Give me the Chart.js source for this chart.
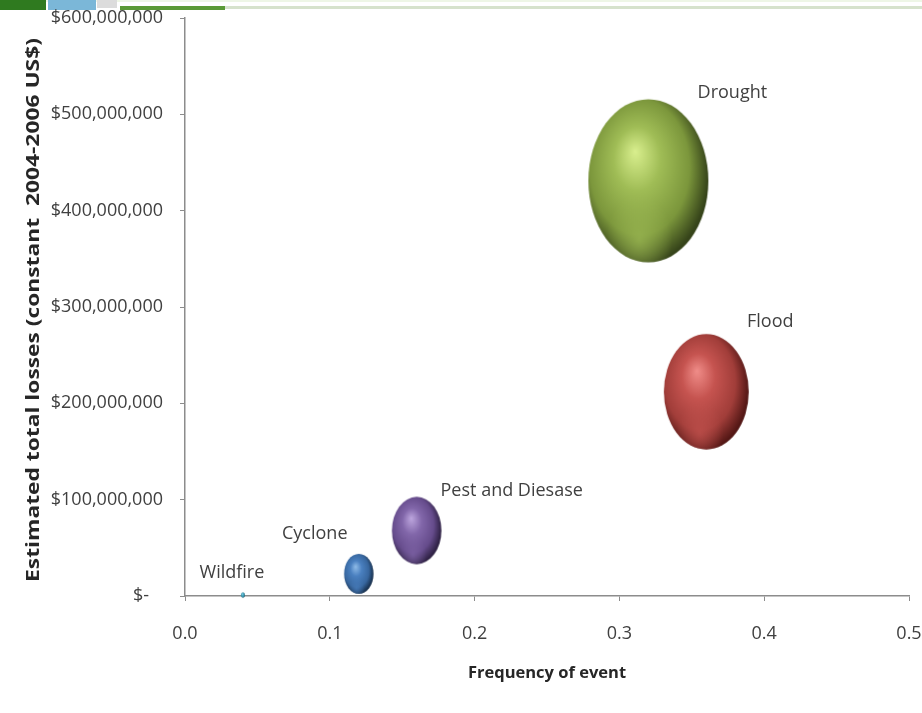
<!DOCTYPE html>
<html>
<head>
<meta charset="utf-8">
<title>Estimated total losses by frequency of event</title>
<script src="https://cdn.jsdelivr.net/npm/chart.js@4.4.1/dist/chart.umd.min.js"></script>
<style>
  html, body { margin: 0; padding: 0; background: #ffffff; }
  #wrap { width: 922px; height: 713px; position: relative; }
</style>
</head>
<body>
<div id="wrap"><canvas id="chart" width="922" height="713"></canvas></div>
<script>
// Hazard categories and their statistics
const categories = ['Wildfire', 'Cyclone', 'Pest and Diesase', 'Flood', 'Drought'];
const frequency  = [0.04, 0.12, 0.16, 0.36, 0.32];                       // share of years with the event
const losses     = [1000000, 23000000, 68000000, 212000000, 431000000];  // constant 2004-2006 US$
const bubbleSize = [0.1, 6, 17, 50, 100];                                // relative bubble magnitude

// Axis ticks and titles
const xTicks = [0.0, 0.1, 0.2, 0.3, 0.4, 0.5];
const yTicks = [0, 100000000, 200000000, 300000000, 400000000, 500000000, 600000000];
const xTitle = 'Frequency of event';
const yTitle = 'Estimated total losses (constant  2004-2006 US$)';

// ---- presentation ----
const MAX_RX = 60;          // horizontal radius of the largest bubble (px)
const STRETCH = 1.36;       // vertical elongation of the bubbles
const sphereColors = [
  { hi: '#8fd3e6', base: '#4bacc6', mid: '#2f8aa3', dark: '#1a4f5e' },
  { hi: '#8fbbe8', base: '#4a80c0', mid: '#38679f', dark: '#172f4c' },
  { hi: '#bda6de', base: '#8267aa', mid: '#664c8c', dark: '#2d2042' },
  { hi: '#f08d89', base: '#c65450', mid: '#a23e3a', dark: '#531715' },
  { hi: '#d9ef8e', base: '#a0bd56', mid: '#7c973c', dark: '#36441a' }
];
// where each data label sits relative to its bubble centre
const labelOffsets = [[-11, -22], [-44, -40], [95, -40], [64, -70], [84, -88]];

function radiusFor(v) {
  const maxV = Math.max(...bubbleSize);
  return Math.max(2, MAX_RX * Math.sqrt(v / maxV));
}

// Shaded, slightly elongated sphere used as the point style of each bubble
function makeSphere(rx, c) {
  const ry = rx * STRETCH;
  const cv = document.createElement('canvas');
  const w = Math.ceil(2 * rx) + 2, h = Math.ceil(2 * ry) + 2;
  cv.width = w; cv.height = h;
  const g = cv.getContext('2d');
  g.translate(w / 2, h / 2);
  g.scale(rx, ry);
  const grad = g.createRadialGradient(-0.22, -0.36, 0, -0.12, -0.1, 1.12);
  grad.addColorStop(0.0, c.hi);
  grad.addColorStop(0.35, c.base);
  grad.addColorStop(0.74, c.mid);
  grad.addColorStop(1.0, c.dark);
  g.beginPath();
  g.arc(0, 0, 1, 0, Math.PI * 2);
  g.fillStyle = grad;
  g.fill();
  // soft reflected light near the lower rim
  g.save();
  g.clip();
  const refl = g.createRadialGradient(-0.15, 0.72, 0, -0.15, 0.72, 0.55);
  refl.addColorStop(0, c.base + 'aa');
  refl.addColorStop(1, c.base + '00');
  g.fillStyle = refl;
  g.fillRect(-1, -1, 2, 2);
  g.restore();
  return cv;
}

const radii = bubbleSize.map(radiusFor);
const sprites = radii.map((r, i) => makeSphere(r, sphereColors[i]));

const points = categories.map((c, i) => ({ x: frequency[i], y: losses[i], r: radii[i] }));

function money(v) {
  if (v === 0) return '$-   ';
  return '$' + String(Math.round(v)).replace(/\B(?=(\d{3})+(?!\d))/g, ',');
}

// decorative header strip along the top edge
const headerStrip = {
  id: 'headerStrip',
  beforeDraw(chart) {
    const ctx = chart.ctx;
    ctx.save();
    ctx.fillStyle = '#ffffff';
    ctx.fillRect(0, 0, chart.width, chart.height);
    ctx.fillStyle = '#eef6e6';
    ctx.fillRect(0, 0, chart.width, 2);
    ctx.fillStyle = '#2f7a1f';
    ctx.fillRect(0, 0, 46, 10);
    ctx.fillStyle = '#7bb7d8';
    ctx.fillRect(48, 0, 48, 10);
    ctx.fillStyle = '#dcdcdc';
    ctx.fillRect(97, 0, 20, 8);
    ctx.fillStyle = '#d6e2cc';
    ctx.fillRect(120, 6, chart.width - 120, 3);
    ctx.fillStyle = '#5a9a36';
    ctx.fillRect(120, 6, 105, 4);
    ctx.restore();
  }
};

// vertical axis title, drawn elongated along its reading direction
const yAxisTitle = {
  id: 'yAxisTitle',
  afterDraw(chart) {
    const ctx = chart.ctx;
    const area = chart.chartArea;
    ctx.save();
    ctx.translate(34, (area.top + area.bottom) / 2 + 3);
    ctx.rotate(-Math.PI / 2);
    ctx.scale(1.34, 1);
    ctx.font = 'bold 17px "Open Sans", sans-serif';
    ctx.fillStyle = '#262626';
    ctx.textAlign = 'center';
    ctx.textBaseline = 'middle';
    ctx.fillText(yTitle, 0, 0);
    ctx.restore();
  }
};

// category names beside each bubble
const bubbleLabels = {
  id: 'bubbleLabels',
  afterDatasetsDraw(chart) {
    const ctx = chart.ctx;
    const meta = chart.getDatasetMeta(0);
    ctx.save();
    ctx.font = '18px "Open Sans", sans-serif';
    ctx.fillStyle = '#404040';
    ctx.textAlign = 'center';
    ctx.textBaseline = 'middle';
    meta.data.forEach((el, i) => {
      const [dx, dy] = labelOffsets[i];
      ctx.fillText(categories[i], el.x + dx, el.y + dy);
    });
    ctx.restore();
  }
};

new Chart(document.getElementById('chart'), {
  type: 'bubble',
  data: {
    datasets: [{
      label: 'Losses',
      data: points,
      pointStyle: (ctx) => sprites[ctx.dataIndex],
      backgroundColor: sphereColors.map(c => c.base),
      borderWidth: 0,
      clip: false
    }]
  },
  options: {
    responsive: false,
    animation: false,
    devicePixelRatio: 1,
    layout: { autoPadding: false, padding: { left: 0, top: 18, right: 13, bottom: 0 } },
    plugins: {
      legend: { display: false },
      tooltip: { enabled: false }
    },
    scales: {
      x: {
        type: 'linear',
        min: 0, max: 0.5,
        afterBuildTicks(scale) { scale.ticks = xTicks.map(v => ({ value: v })); },
        afterFit(scale) { scale.height = 117; scale.paddingLeft = 0; scale.paddingRight = 0; },
        grid: { display: true, drawOnChartArea: false, drawTicks: true, tickLength: 5, color: '#8c8c8c' },
        border: { display: true, color: '#8c8c8c', width: 1.5 },
        ticks: {
          padding: 22,
          color: '#404040',
          font: { family: '"Open Sans", sans-serif', size: 18 },
          callback: (v) => Number(v).toFixed(1)
        },
        title: {
          display: true,
          text: xTitle,
          color: '#262626',
          font: { family: '"Open Sans", sans-serif', size: 16.5, weight: 'bold' },
          padding: { top: 0, bottom: 30 }
        }
      },
      y: {
        type: 'linear',
        min: 0, max: 600000000,
        afterBuildTicks(scale) { scale.ticks = yTicks.map(v => ({ value: v })); },
        afterFit(scale) { scale.width = 185; scale.paddingTop = 0; scale.paddingBottom = 0; },
        grid: { display: true, drawOnChartArea: false, drawTicks: true, tickLength: 5, color: '#8c8c8c' },
        border: { display: true, color: '#8c8c8c', width: 1.5 },
        ticks: {
          padding: 17,
          color: '#404040',
          font: { family: '"Open Sans", sans-serif', size: 18 },
          callback: (v) => money(v)
        },
        title: { display: false }
      }
    }
  },
  plugins: [headerStrip, bubbleLabels, yAxisTitle]
});
</script>
</body>
</html>
